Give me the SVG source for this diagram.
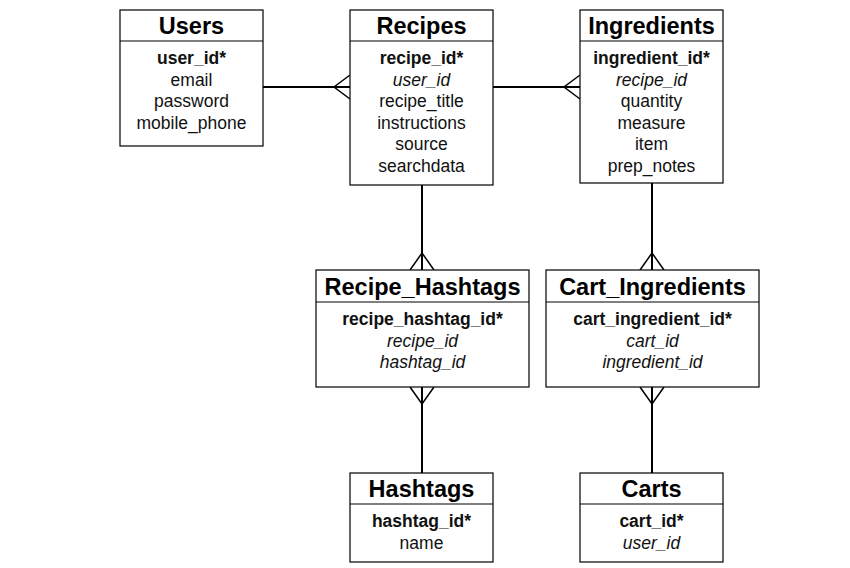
<svg xmlns="http://www.w3.org/2000/svg" width="850" height="568" viewBox="0 0 850 568">
<style>
.box{fill:#fff;stroke:#000;stroke-width:1.2}
.div{stroke:#000;stroke-width:1.2}
.t{font-family:"Liberation Sans",Arial,Helvetica,sans-serif;font-size:23.5px;font-weight:bold;text-anchor:middle;fill:#000}
.f{font-family:"Liberation Sans",Arial,Helvetica,sans-serif;font-size:17.5px;text-anchor:middle;fill:#111}
.k{font-weight:bold}
.i{font-style:italic}
.c{stroke:#000;stroke-width:2;fill:none}
.cf{stroke:#000;stroke-width:1.5;fill:none}
</style>
<rect width="850" height="568" fill="#fff"/>
<g id="connectors">
<line class="c" x1="263" y1="87" x2="350" y2="87"/>
<path class="cf" d="M350 75 L334 87 L350 99"/>
<line class="c" x1="493" y1="87" x2="580" y2="87"/>
<path class="cf" d="M580 75 L564 87 L580 99"/>
<line class="c" x1="422" y1="185" x2="422" y2="270"/>
<path class="cf" d="M410 270 L422 253 L434 270"/>
<line class="c" x1="652" y1="183" x2="652" y2="270"/>
<path class="cf" d="M640 270 L652 253 L664 270"/>
<line class="c" x1="422" y1="387" x2="422" y2="473"/>
<path class="cf" d="M410 387 L422 404 L434 387"/>
<line class="c" x1="652" y1="387" x2="652" y2="473"/>
<path class="cf" d="M640 387 L652 404 L664 387"/>
</g>
<g id="users">
<rect class="box" x="120" y="10" width="143" height="136"/>
<line class="div" x1="120" y1="41" x2="263" y2="41"/>
<text class="t" x="191.5" y="34">Users</text>
<text class="f k" x="191.5" y="64">user_id*</text>
<text class="f" x="191.5" y="85.5">email</text>
<text class="f" x="191.5" y="107">password</text>
<text class="f" x="191.5" y="128.5">mobile_phone</text>
</g>
<g id="recipes">
<rect class="box" x="350" y="10" width="143" height="175"/>
<line class="div" x1="350" y1="41" x2="493" y2="41"/>
<text class="t" x="421.5" y="34">Recipes</text>
<text class="f k" x="421.5" y="64">recipe_id*</text>
<text class="f i" x="421.5" y="85.5">user_id</text>
<text class="f" x="421.5" y="107">recipe_title</text>
<text class="f" x="421.5" y="128.5">instructions</text>
<text class="f" x="421.5" y="150">source</text>
<text class="f" x="421.5" y="171.5">searchdata</text>
</g>
<g id="ingredients">
<rect class="box" x="580" y="10" width="143" height="173"/>
<line class="div" x1="580" y1="41" x2="723" y2="41"/>
<text class="t" x="651.5" y="34">Ingredients</text>
<text class="f k" x="651.5" y="64">ingredient_id*</text>
<text class="f i" x="651.5" y="85.5">recipe_id</text>
<text class="f" x="651.5" y="107">quantity</text>
<text class="f" x="651.5" y="128.5">measure</text>
<text class="f" x="651.5" y="150">item</text>
<text class="f" x="651.5" y="171.5">prep_notes</text>
</g>
<g id="recipe_hashtags">
<rect class="box" x="316" y="270" width="213" height="117"/>
<line class="div" x1="316" y1="302" x2="529" y2="302"/>
<text class="t" x="422.5" y="295">Recipe_Hashtags</text>
<text class="f k" x="422.5" y="325">recipe_hashtag_id*</text>
<text class="f i" x="422.5" y="346.5">recipe_id</text>
<text class="f i" x="422.5" y="368">hashtag_id</text>
</g>
<g id="cart_ingredients">
<rect class="box" x="546" y="270" width="213" height="117"/>
<line class="div" x1="546" y1="302" x2="759" y2="302"/>
<text class="t" x="652.5" y="295">Cart_Ingredients</text>
<text class="f k" x="652.5" y="325">cart_ingredient_id*</text>
<text class="f i" x="652.5" y="346.5">cart_id</text>
<text class="f i" x="652.5" y="368">ingredient_id</text>
</g>
<g id="hashtags">
<rect class="box" x="350" y="473" width="143" height="89"/>
<line class="div" x1="350" y1="504" x2="493" y2="504"/>
<text class="t" x="421.5" y="497">Hashtags</text>
<text class="f k" x="421.5" y="527">hashtag_id*</text>
<text class="f" x="421.5" y="548.5">name</text>
</g>
<g id="carts">
<rect class="box" x="580" y="473" width="143" height="89"/>
<line class="div" x1="580" y1="504" x2="723" y2="504"/>
<text class="t" x="651.5" y="497">Carts</text>
<text class="f k" x="651.5" y="527">cart_id*</text>
<text class="f i" x="651.5" y="548.5">user_id</text>
</g>
</svg>
